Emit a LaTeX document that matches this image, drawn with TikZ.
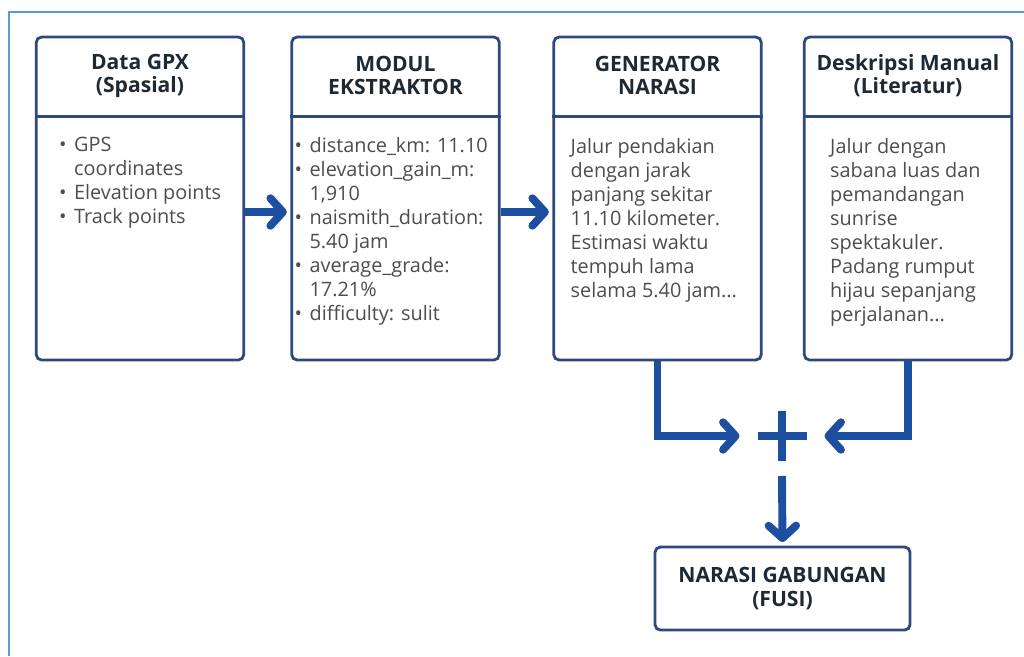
\documentclass[tikz,border=0pt]{standalone}
\usepackage{fontspec}
\setmainfont{Open Sans}
\usetikzlibrary{%
  positioning,
  arrows.meta,
}

\definecolor{navy}{HTML}{2E4A7D}
\definecolor{flowblue}{HTML}{1C4FA0}
\definecolor{framebl}{HTML}{5B9BD5}
\definecolor{ink}{HTML}{1F2933}
\definecolor{bodygray}{HTML}{4D4D4D}

\newcommand\butir[1]{\makebox[0.75em][l]{•}#1}
\newcommand\lanjut{\hspace*{0.75em}}

\begin{document}
\begin{tikzpicture}[
    x=0.02cm, y=-0.02cm,
    panel/.style={
      % The shape:
      rectangle,
      rounded corners=3pt,
      % The size:
      minimum width=4.15cm,
      minimum height=6.46cm,
      % The border:
      line width=1.6pt,
      draw=navy,
      fill=white,
    },
    title/.style={align=center, font=\fontsize{12}{13.2}\selectfont\bfseries, text=ink},
    body/.style={
      anchor=north west,
      inner sep=0pt,
      align=left,
      font=\fontsize{11.3}{13.7}\selectfont,
      text=bodygray,
    },
    divider/.style={line width=1.6pt, draw=navy},
    flow/.style={
      line width=4.5pt,
      draw=flowblue,
      shorten >=2pt,
      -{Straight Barb[length=2.5mm, width=5.5mm, round]},
    }]

    \useasboundingbox (0,0) rectangle (1024,656);
    % the frame of the screenshot (only top and left show)
    \draw[framebl, line width=1.5pt] (1024,12) -- (9,12) -- (9,656);

    \node[panel] (gpx) at (140,198.5) {};
    \node[panel] (ekstraktor) at (395.5,198.5) {};
    \node[panel] (generator) at (657.5,198.5) {};
    \node[panel] (deskripsi) at (908,198.5) {};
    \node[panel, minimum width=5.1cm, minimum height=1.66cm, title] (fusi)
          at (782.5,588.5) {NARASI GABUNGAN \\ (FUSI)};

    \node[title] (gpx title) at ([yshift=-0.8cm]gpx.north) {Data GPX \\ (Spasial)};
    \node[title] (ekstraktor title) at ([yshift=-0.8cm]ekstraktor.north) {MODUL \\ EKSTRAKTOR};
    \node[title] (generator title) at ([yshift=-0.8cm]generator.north) {GENERATOR \\ NARASI};
    \node[title] (deskripsi title) at ([yshift=-0.8cm]deskripsi.north) {Deskripsi Manual \\ (Literatur)};

    \draw[divider] ([yshift=-1.62cm]gpx.north west) -- ([yshift=-1.62cm]gpx.north east);
    \draw[divider] ([yshift=-1.62cm]ekstraktor.north west) -- ([yshift=-1.62cm]ekstraktor.north east);
    \draw[divider] ([yshift=-1.62cm]generator.north west) -- ([yshift=-1.62cm]generator.north east);
    \draw[divider] ([yshift=-1.62cm]deskripsi.north west) -- ([yshift=-1.62cm]deskripsi.north east);

    \node[body] (gpx body) at ([xshift=0.48cm, yshift=-2.02cm]gpx.north west)
          {\butir{GPS} \\ \lanjut coordinates \\ \butir{Elevation points} \\ \butir{Track points}};
    \node[body] (ekstraktor body) at ([xshift=0.08cm, yshift=-2.02cm]ekstraktor.north west)
          {\butir{distance\_km: 11.10} \\ \butir{elevation\_gain\_m:} \\ \lanjut 1,910 \\
           \butir{naismith\_duration:} \\ \lanjut 5.40 jam \\ \butir{average\_grade:} \\
           \lanjut 17.21\% \\ \butir{difficulty: sulit}};
    \node[body] (generator body) at ([xshift=0.36cm, yshift=-2.04cm]generator.north west)
          {Jalur pendakian \\ dengan jarak \\ panjang sekitar \\ 11.10 kilometer. \\
           Estimasi waktu \\ tempuh lama \\ selama 5.40 jam...};
    \node[body] (deskripsi body) at ([xshift=0.54cm, yshift=-2.04cm]deskripsi.north west)
          {Jalur dengan \\ sabana luas dan \\ pemandangan \\ sunrise \\ spektakuler. \\
           Padang rumput \\ hijau sepanjang \\ perjalanan...};

    % the plus where the two narratives meet
    \coordinate (fuse) at (782,436);
    \draw[flowblue, line width=4.5pt] ([xshift=-0.49cm]fuse) -- ([xshift=0.49cm]fuse)
          ([yshift=0.5cm]fuse) -- ([yshift=-0.5cm]fuse);

    \draw[flow] ([yshift=-0.27cm]gpx.east) -- ([yshift=-0.27cm]ekstraktor.west);
    \draw[flow] ([yshift=-0.27cm]ekstraktor.east) -- ([yshift=-0.27cm]generator.west);
    \draw[flow] (generator.south) |- ([xshift=-0.78cm]fuse);
    \draw[flow] (deskripsi.south) |- ([xshift=0.78cm]fuse);
    \draw[flow] ([yshift=-0.8cm]fuse) -- (fusi.north);
  \end{tikzpicture}
\end{document}
